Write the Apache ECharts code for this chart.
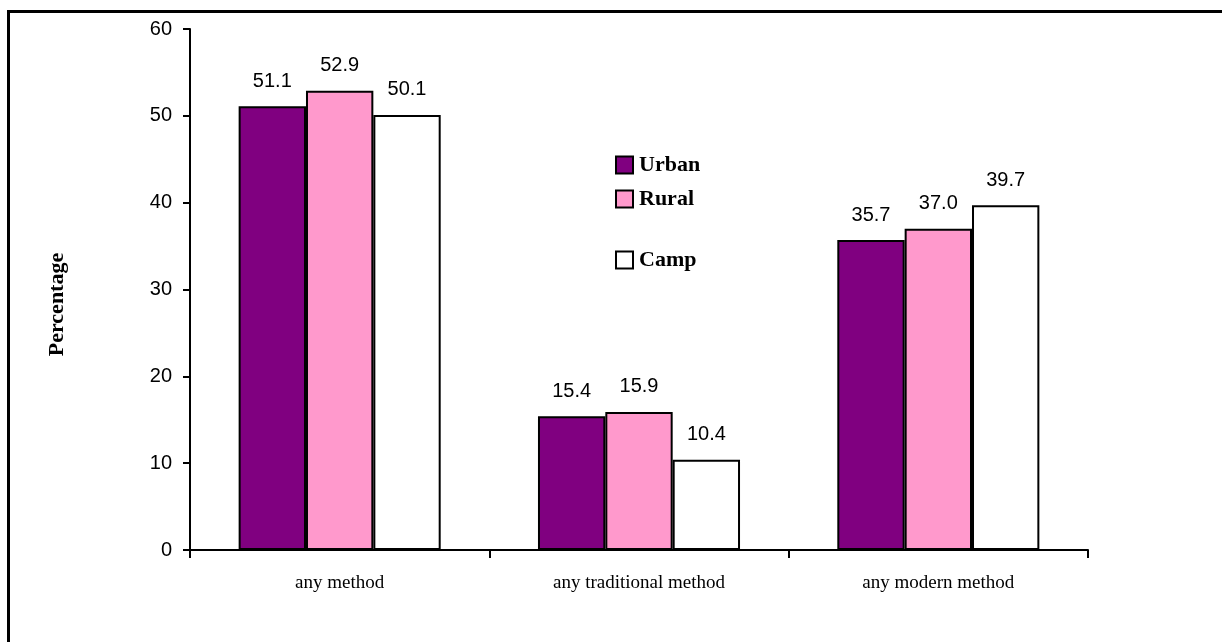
<!DOCTYPE html>
<html>
<head>
<meta charset="utf-8">
<script src="https://cdn.jsdelivr.net/npm/echarts@6/dist/echarts.min.js"></script>
<style>
  html, body { margin: 0; padding: 0; background: #fff; }
  #chart { width: 1222px; height: 642px; }
</style>
</head>
<body>
<div id="chart"></div>
<script>
// Contraceptive use by place of residence (%)
const categories = ['any method', 'any traditional method', 'any modern method'];
const urban = [51.1, 15.4, 35.7];
const rural = [52.9, 15.9, 37.0];
const camp  = [50.1, 10.4, 39.7];
const yTicks = [0, 10, 20, 30, 40, 50, 60];

const seriesDefs = [
  { name: 'Urban', data: urban, color: '#800080' },
  { name: 'Rural', data: rural, color: '#FF99CC' },
  { name: 'Camp',  data: camp,  color: '#FFFFFF' }
];

// vertical centres of the three legend entries
const legendCentres = [165, 199, 260];

const chart = echarts.init(document.getElementById('chart'), null, { renderer: 'canvas' });

chart.setOption({
  backgroundColor: '#ffffff',
  animation: false,
  grid: { left: 190, right: 134, top: 29, bottom: 92, containLabel: false },
  legend: seriesDefs.map((s, i) => ({
    data: [s.name],
    left: 615,
    top: legendCentres[i] - 11,
    padding: 0,
    orient: 'vertical',
    icon: 'rect',
    itemWidth: 17,
    itemHeight: 17,
    itemGap: 4,
    textStyle: {
      fontFamily: 'Liberation Serif, Times New Roman, serif',
      fontWeight: 'bold',
      fontSize: 22,
      lineHeight: 22,
      color: '#000',
      padding: [0, 0, 0, 1]
    },
    itemStyle: { borderColor: '#000', borderWidth: 2 }
  })),
  xAxis: {
    type: 'category',
    data: categories,
    boundaryGap: true,
    axisLine: { show: true, lineStyle: { color: '#000', width: 2 } },
    axisTick: { show: true, length: 8, lineStyle: { color: '#000', width: 2 } },
    axisLabel: {
      margin: 24,
      fontFamily: 'Liberation Serif, Times New Roman, serif',
      fontSize: 19,
      color: '#000'
    },
    splitLine: { show: false }
  },
  yAxis: {
    type: 'value',
    min: yTicks[0],
    max: yTicks[yTicks.length - 1],
    interval: 10,
    name: 'Percentage',
    nameLocation: 'middle',
    nameGap: 122,
    nameRotate: 90,
    nameTextStyle: {
      fontFamily: 'Liberation Serif, Times New Roman, serif',
      fontWeight: 'bold',
      fontSize: 22,
      color: '#000',
      padding: [0, 30, 0, 0]
    },
    axisLine: { show: true, lineStyle: { color: '#000', width: 2 } },
    axisTick: { show: true, length: 7, lineStyle: { color: '#000', width: 2 } },
    axisLabel: {
      margin: 18,
      fontFamily: 'Liberation Sans, Arial, sans-serif',
      fontSize: 20,
      color: '#000'
    },
    splitLine: { show: false }
  },
  series: seriesDefs.map(s => ({
    name: s.name,
    type: 'bar',
    data: s.data,
    barGap: '0%',
    barCategoryGap: '32.5%',
    itemStyle: { color: s.color, borderColor: '#000', borderWidth: 2 },
    label: {
      show: true,
      position: 'top',
      distance: 15,
      formatter: p => p.value.toFixed(1),
      fontFamily: 'Liberation Sans, Arial, sans-serif',
      fontSize: 20,
      color: '#000'
    }
  })),
  graphic: [
    {
      type: 'line',
      shape: { x1: 8, y1: 11.5, x2: 1222, y2: 11.5 },
      style: { stroke: '#000', lineWidth: 3 }
    },
    {
      type: 'line',
      shape: { x1: 8.5, y1: 10, x2: 8.5, y2: 642 },
      style: { stroke: '#000', lineWidth: 3 }
    }
  ]
});
</script>
</body>
</html>
